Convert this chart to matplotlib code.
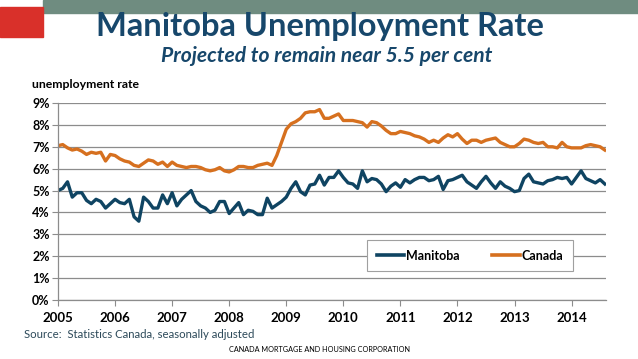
import numpy as np
import matplotlib
matplotlib.use("Agg")
import matplotlib.pyplot as plt
from matplotlib.patches import Rectangle

plt.rcParams['font.family'] = ['Lato', 'DejaVu Sans']

# monthly rates, Jan 2005 onward
manitoba = [5.0, 5.1, 5.4, 4.7, 4.9, 4.9, 4.55, 4.4, 4.6, 4.5, 4.2, 4.4,
            4.6, 4.45, 4.4, 4.6, 3.8, 3.6, 4.7, 4.5, 4.2, 4.2, 4.8, 4.4,
            4.9, 4.3, 4.6, 4.8, 5.0, 4.5, 4.3, 4.2, 4.0, 4.1, 4.5, 4.5,
            3.95, 4.2, 4.45, 3.9, 4.1, 4.05, 3.9, 3.9, 4.65, 4.2, 4.35, 4.5,
            4.7, 5.1, 5.4, 4.95, 4.8, 5.25, 5.3, 5.7, 5.25, 5.6, 5.6, 5.9,
            5.6, 5.35, 5.3, 5.1, 5.9, 5.4, 5.55, 5.5, 5.3, 4.95, 5.2, 5.35,
            5.15, 5.5, 5.35, 5.5, 5.6, 5.6, 5.45, 5.5, 5.65, 5.05, 5.45, 5.5,
            5.6, 5.7, 5.4, 5.25, 5.1, 5.4, 5.65, 5.35, 5.1, 5.4, 5.2, 5.1,
            4.95, 5.0, 5.55, 5.75, 5.4, 5.35, 5.3, 5.45, 5.5, 5.6, 5.55, 5.6,
            5.3, 5.6, 5.9, 5.55, 5.45, 5.35, 5.5, 5.3]
canada = [7.05, 7.1, 6.95, 6.85, 6.9, 6.8, 6.65, 6.75, 6.7, 6.75, 6.35, 6.65,
          6.6, 6.45, 6.35, 6.3, 6.15, 6.1, 6.25, 6.4, 6.35, 6.2, 6.3, 6.1,
          6.3, 6.15, 6.1, 6.05, 6.1, 6.1, 6.05, 5.95, 5.9, 5.95, 6.05, 5.9,
          5.85, 5.95, 6.1, 6.1, 6.05, 6.05, 6.15, 6.2, 6.25, 6.15, 6.6, 7.2,
          7.8, 8.05, 8.15, 8.3, 8.55, 8.6, 8.6, 8.7, 8.3, 8.3, 8.4, 8.5,
          8.2, 8.2, 8.2, 8.15, 8.1, 7.9, 8.15, 8.1, 7.95, 7.75, 7.6, 7.6,
          7.7, 7.65, 7.6, 7.5, 7.45, 7.35, 7.2, 7.3, 7.2, 7.4, 7.55, 7.45,
          7.6, 7.35, 7.15, 7.3, 7.3, 7.2, 7.3, 7.35, 7.4, 7.2, 7.1, 7.0,
          7.0, 7.15, 7.35, 7.3, 7.2, 7.15, 7.2, 7.0, 7.0, 6.95, 7.2, 7.0,
          6.95, 6.95, 6.95, 7.05, 7.1, 7.05, 7.0, 6.85]
years = list(range(2005, 2015))
yticks = list(range(0, 10))

t = 2005 + np.arange(len(manitoba)) / 12.0

fig = plt.figure(figsize=(6.38, 3.59), dpi=100)

# header decorations
fig.patches.append(Rectangle((43/638, 1-12.5/359), 1, 12.5/359, transform=fig.transFigure,
                             color='#6f8c80', zorder=0))
fig.patches.append(Rectangle((0, 1-37/359), 43/638, 30/359, transform=fig.transFigure,
                             color='#d9302a', zorder=0))

fig.text(0.502, 1-36/359, 'Manitoba Unemployment Rate', ha='center', va='baseline',
         fontsize=23.5, fontweight='bold', color='#17476b')
fig.text(0.512, 1-62/359, 'Projected to remain near 5.5 per cent', ha='center', va='baseline',
         fontsize=15.2, fontweight='bold', fontstyle='italic', color='#17476b')
fig.text(32/638, 1-84/359, 'unemployment rate', ha='left', va='center',
         fontsize=8.8, fontweight='bold', color='black')

ax = fig.add_axes([58/638, 1-300/359, 548/638, 197/359])
ax.plot(t, manitoba, color='#0f4462', lw=2.4, label='Manitoba', solid_joinstyle='round')
ax.plot(t, canada, color='#d6701f', lw=2.4, label='Canada', solid_joinstyle='round')

ax.set_xlim(2005, t[-1] + 0.02)
ax.set_ylim(0, 9)
ax.set_yticks(yticks)
ax.set_yticklabels(['%d%%' % v for v in yticks])
ax.set_xticks(years)
ax.set_xticklabels([str(y) for y in years])
ax.yaxis.grid(True, color='#8c8c8c', lw=0.9)
ax.set_axisbelow(True)
for s in ['top', 'right']:
    ax.spines[s].set_visible(False)
for s in ['left', 'bottom']:
    ax.spines[s].set_color('#8c8c8c')
    ax.spines[s].set_linewidth(0.9)
ax.tick_params(axis='y', length=4, color='#8c8c8c', pad=2, labelsize=9)
ax.tick_params(axis='x', length=4, color='#8c8c8c', pad=5, labelsize=9.5)
for lb in ax.get_xticklabels() + ax.get_yticklabels():
    lb.set_fontweight('bold')

leg = ax.legend(loc='center', bbox_to_anchor=(0.752, 0.225), ncol=2, frameon=True,
                fancybox=False, edgecolor='#a0a0a0', framealpha=1,
                prop={'weight': 'bold', 'size': 9}, handlelength=2.2,
                columnspacing=2.6, borderpad=0.75, handletextpad=0.15)
leg.get_frame().set_linewidth(0.8)
for h in leg.get_lines():
    h.set_linewidth(2.6)

fig.text(24/638, 1-335/359, 'Source:  Statistics Canada, seasonally adjusted', ha='left',
         va='center', fontsize=8.2, color='#2d4a5a')
fig.text(320/638, 1-350/359, 'CANADA MORTGAGE AND HOUSING CORPORATION', ha='center',
         va='center', fontsize=5.2, color='black')

fig.savefig('out.png', dpi=100)
